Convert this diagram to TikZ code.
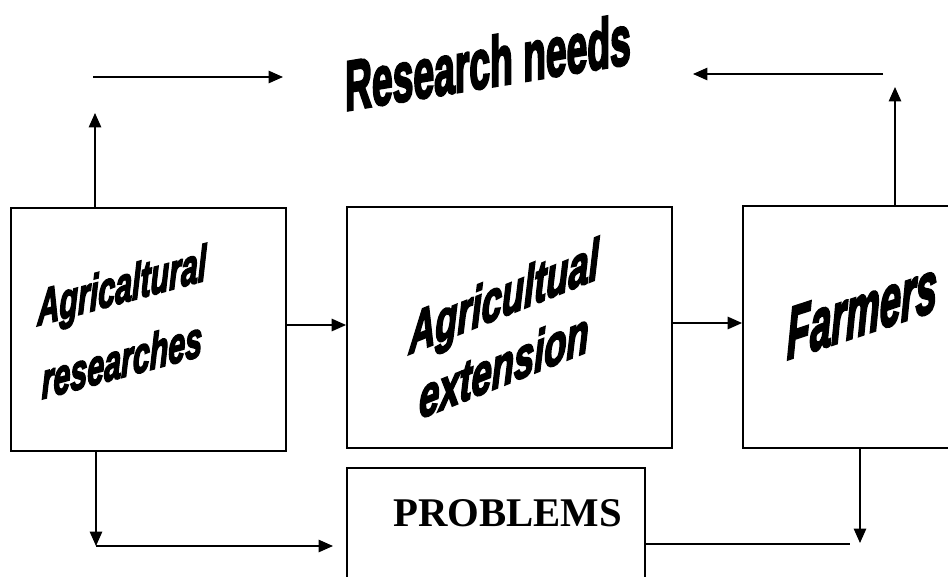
\documentclass[tikz,border=0pt]{standalone}
\usepackage{fontspec}
\setmainfont{Liberation Serif}
\setsansfont{Liberation Sans}
\newfontface\wafont{Liberation Sans Bold}[FakeBold=4]
\newfontface\wafonti{Liberation Sans Bold Italic}[FakeBold=4]
\usepackage{graphicx}
\usetikzlibrary{arrows.meta}
\tikzset{
  blk/.style={
    rectangle,
    draw=black,
    line width=1.3pt,
    inner sep=0,
  },
  wart/.style={
    inner sep=0,
    align=center,
  },
  arr/.style={
    -{Triangle[length=3.6mm,width=3.1mm]},
    line width=1.1pt,
  },
  ln/.style={
    line width=1.1pt,
  },
}
\newcommand{\squeeze}[2]{\scalebox{#1}[1]{#2}}

\begin{document}
\begin{tikzpicture}[x=.25mm,y=-.25mm]
  \clip (0,0) rectangle (948,577);

  % boxes
  \node[blk,minimum width=68.75mm,minimum height=60.75mm] at (148.5,329.5) (ares) {};
  \node[blk,minimum width=81.25mm,minimum height=60.25mm] at (509.5,327.5) (ext) {};
  \node[blk,minimum width=54.25mm,minimum height=60.5mm] at (851.5,327) (farm) {};
  \node[blk,minimum width=74.5mm,minimum height=33mm] at (496,534) (prob) {};

  % texts
  \node[wart,yslant=.165,font=\wafont\fontsize{50}{50}\selectfont] at (488,62) (need) {\squeeze{.53}{Research needs}};
  \node[wart,yslant=.27,font=\wafonti\fontsize{36}{53}\selectfont] at (122,322) (aresT)
    {\squeeze{.6}{Agricaltural}\\\squeeze{.6}{researches}};
  \node[wart,yslant=.4,font=\wafonti\fontsize{41}{49}\selectfont] at (504,330) (extT)
    {\squeeze{.63}{Agricultual}\\\squeeze{.63}{extension}};
  \node[wart,yslant=.33,font=\wafonti\fontsize{52}{52}\selectfont] at (862,310) (farmT) {\squeeze{.52}{Farmers}};
  \node[wart,font=\bfseries\fontsize{29}{29}\selectfont] at (507.5,513.5) (probT) {PROBLEMS};

  % free ends
  \node[coordinate] at (95,113) (lup) {};
  \node[coordinate] at (895,87) (rup) {};
  \node[coordinate] at (93,77) (tl0) {};
  \node[coordinate] at (283,77) (tl1) {};
  \node[coordinate] at (883,74) (tr0) {};
  \node[coordinate] at (693,74) (tr1) {};
  \node[coordinate] at (300,325) (m0) {};
  \node[coordinate] at (700,323) (m1) {};
  \node[coordinate] at (96,546) (bl) {};
  \node[coordinate] at (333,546) (bl1) {};
  \node[coordinate] at (860,543) (br) {};
  \node[coordinate] at (850,544) (br1) {};

  % connectors
  \draw[arr] (lup |- ares.north) -- (lup);
  \draw[arr] (rup |- farm.north) -- (rup);
  \draw[arr] (tl0) -- (tl1);
  \draw[arr] (tr0) -- (tr1);
  \draw[arr] (m0 -| ares.east) -- (m0 -| ext.west);
  \draw[arr] (m1 -| ext.east) -- (m1 -| farm.west);
  \draw[arr] (bl |- ares.south) -- (bl);
  \draw[arr] (bl) -- (bl1);
  \draw[arr] (br |- farm.south) -- (br);
  \draw[ln] (br1 -| prob.east) -- (br1);
\end{tikzpicture}
\end{document}
